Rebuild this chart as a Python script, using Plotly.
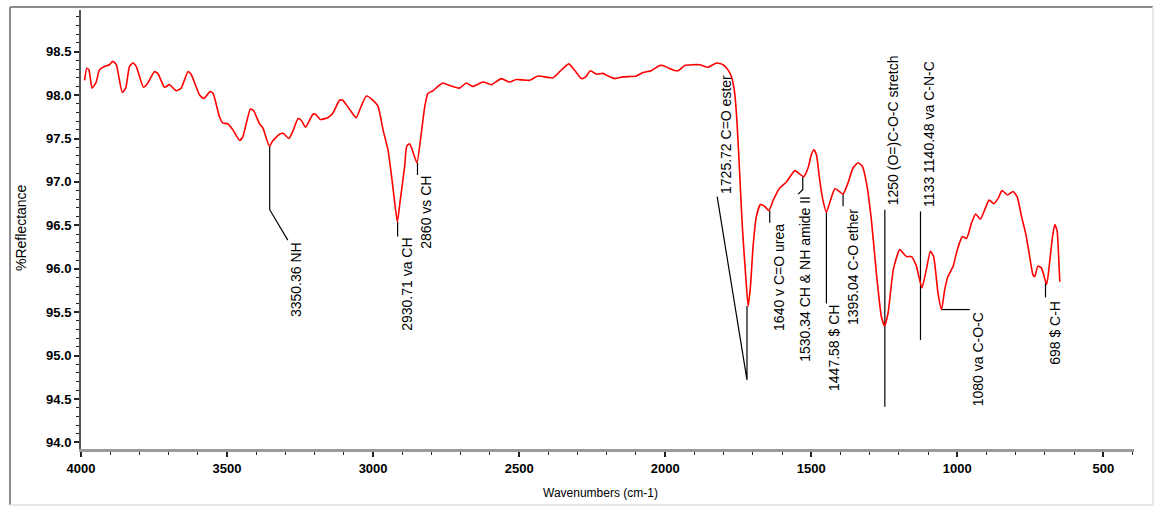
import plotly.graph_objects as go

# ---------------- data ----------------
wavenumbers = [
    3988, 3980, 3973, 3962, 3948, 3937, 3920, 3903, 3891, 3879, 3859, 3847, 3834, 3822, 3811,
    3786, 3771, 3749, 3737, 3714, 3697, 3674, 3657, 3634, 3623, 3594, 3580, 3558, 3548, 3526,
    3515, 3498, 3480, 3457, 3446, 3420, 3409, 3389, 3377, 3355, 3344, 3320, 3308, 3288, 3274,
    3257, 3246, 3231, 3206, 3197, 3181, 3155, 3138, 3115, 3104, 3092, 3075, 3058, 3041, 3023,
    3000, 2983, 2966, 2949, 2938, 2927, 2917, 2907, 2892, 2885, 2875, 2866, 2850, 2838, 2823,
    2812, 2795, 2778, 2761, 2738, 2704, 2681, 2659, 2624, 2595, 2561, 2533, 2510, 2464, 2436,
    2384, 2361, 2330, 2311, 2287, 2272, 2256, 2235, 2213, 2196, 2173, 2145, 2099, 2076, 2048,
    2019, 2008, 1973, 1956, 1933, 1882, 1854, 1824, 1802, 1785, 1773, 1762, 1754, 1745, 1736,
    1725, 1716, 1708, 1699, 1688, 1674, 1660, 1645, 1630, 1608, 1585, 1556, 1539, 1526, 1511,
    1500, 1491, 1482, 1471, 1460, 1448, 1434, 1419, 1404, 1391, 1374, 1357, 1340, 1325, 1311,
    1294, 1277, 1260, 1249, 1237, 1219, 1197, 1174, 1157, 1140, 1121, 1106, 1092, 1081, 1066,
    1054, 1043, 1032, 1014, 1003, 991, 982, 968, 951, 937, 921, 906, 891, 875, 860,
    847, 828, 809, 795, 780, 766, 754, 741, 735, 724, 712, 694, 683, 674, 666,
    658, 653, 649,
]
reflectance = [
    98.17, 98.31, 98.29, 98.08, 98.15, 98.29, 98.33, 98.35, 98.39, 98.35, 98.03, 98.08, 98.33, 98.37, 98.33,
    98.09, 98.14, 98.27, 98.25, 98.09, 98.12, 98.05, 98.08, 98.27, 98.24, 98.00, 97.96, 98.04, 98.02, 97.75,
    97.68, 97.67, 97.60, 97.48, 97.52, 97.84, 97.82, 97.67, 97.62, 97.41, 97.47, 97.55, 97.56, 97.50, 97.59,
    97.73, 97.71, 97.63, 97.78, 97.78, 97.72, 97.74, 97.79, 97.94, 97.94, 97.89, 97.81, 97.74, 97.87, 97.99,
    97.94, 97.87, 97.60, 97.37, 97.10, 96.79, 96.54, 96.79, 97.18, 97.41, 97.44, 97.37, 97.22, 97.48, 97.87,
    98.02, 98.05, 98.10, 98.14, 98.11, 98.08, 98.14, 98.10, 98.15, 98.12, 98.19, 98.15, 98.18, 98.17, 98.22,
    98.20, 98.27, 98.36, 98.29, 98.19, 98.21, 98.28, 98.24, 98.25, 98.22, 98.19, 98.21, 98.22, 98.26, 98.28,
    98.34, 98.34, 98.29, 98.28, 98.34, 98.35, 98.32, 98.37, 98.35, 98.29, 98.21, 98.02, 97.68, 97.10, 96.49,
    95.95, 95.57, 95.80, 96.26, 96.60, 96.74, 96.72, 96.67, 96.79, 96.93, 97.00, 97.13, 97.09, 97.06, 97.16,
    97.31, 97.37, 97.31, 97.02, 96.79, 96.65, 96.79, 96.92, 96.89, 96.86, 96.99, 97.16, 97.22, 97.18, 96.99,
    96.56, 95.95, 95.45, 95.34, 95.49, 95.99, 96.22, 96.14, 96.14, 96.03, 95.78, 95.99, 96.20, 96.14, 95.72,
    95.53, 95.76, 95.91, 96.03, 96.18, 96.31, 96.37, 96.35, 96.53, 96.63, 96.57, 96.68, 96.79, 96.75, 96.81,
    96.90, 96.85, 96.89, 96.83, 96.60, 96.41, 96.18, 95.93, 95.91, 96.03, 96.01, 95.82, 96.10, 96.37, 96.51,
    96.43, 96.14, 95.85,
]

x_tick_values = [4000, 3500, 3000, 2500, 2000, 1500, 1000, 500]
y_tick_values = [94.0, 94.5, 95.0, 95.5, 96.0, 96.5, 97.0, 97.5, 98.0, 98.5]
y_tick_labels = ["94.0", "94.5", "95.0", "95.5", "96.0", "96.5", "97.0", "97.5", "98.0", "98.5"]

x_title = "Wavenumbers (cm-1)"
y_title = "%Reflectance"

peak_labels = [
    "3350.36 NH", "2930.71 va CH", "2860 vs CH", "1725.72 C=O ester", "1640 v C=O urea",
    "1530.34 CH & NH amide II", "1447.58 $ CH", "1395.04 C-O ether",
    "1250 (O=)C-O-C stretch", "1133 1140.48 va C-N-C", "1080 va C-O-C", "698 $ C-H",
]
label_x = [3262, 2885, 2818, 1790, 1608, 1522, 1420, 1357, 1220, 1097, 929, 666]
label_y = [96.32, 96.37, 97.08, 96.85, 96.53, 96.85, 95.59, 96.70, 96.72, 96.70, 95.51, 95.64]
label_anchor = ["top", "top", "top", "bottom", "top", "top", "top", "top", "bottom", "bottom", "top", "top"]
leader_x = [
    [3354, 3354, 3292], [2916, 2916], [2848, 2848], [1822, 1720, 1720], [1642, 1642],
    [1529, 1529, 1545], [1448, 1448], [1391, 1391], [1248, 1248], [1126, 1126],
    [1054, 957], [698, 698],
]
leader_y = [
    [97.41, 96.68, 96.33], [96.54, 96.37], [97.22, 97.08], [96.83, 94.72, 95.57], [96.67, 96.53],
    [97.06, 96.91, 96.86], [96.65, 95.60], [96.86, 96.72], [96.68, 94.41], [96.66, 95.18],
    [95.53, 95.53], [95.84, 95.67],
]

# ---------------- figure ----------------
W, H = 1155, 508
ML, MR, MT, MB = 81, 21, 10, 59
PW, PH = W - ML - MR, H - MT - MB

TEXT_FONT = "Liberation Sans, Arial, sans-serif"

fig = go.Figure()

lx, ly = [], []
for xs, ys in zip(leader_x, leader_y):
    lx += xs + [None]
    ly += ys + [None]
fig.add_trace(go.Scatter(x=lx, y=ly, mode="lines", line=dict(color="#000000", width=1.2),
                         hoverinfo="skip", showlegend=False))

fig.add_trace(go.Scatter(x=wavenumbers, y=reflectance, mode="lines",
                         line=dict(color="#ff0000", width=1.6, shape="spline", smoothing=0.5),
                         showlegend=False))

for t, x, y, a in zip(peak_labels, label_x, label_y, label_anchor):
    fig.add_annotation(x=x, y=y, text=t, textangle=-90, showarrow=False,
                       xanchor="center", yanchor=a, borderpad=0,
                       font=dict(family=TEXT_FONT, size=14, color="#000000"))

def px_x(px):
    return (px - ML) / PW

def px_y(py):
    return (MT + PH - py) / PH

# axis titles
fig.add_annotation(xref="paper", yref="paper", x=px_x(600), y=px_y(493), text=x_title,
                   showarrow=False, xanchor="center", yanchor="middle",
                   font=dict(family=TEXT_FONT, size=12, color="#000000"))
fig.add_annotation(xref="paper", yref="paper", x=px_x(21), y=px_y(228), text=y_title,
                   textangle=-90, showarrow=False, xanchor="center", yanchor="middle",
                   font=dict(family=TEXT_FONT, size=14, color="#000000"))

frame_dark = "#8c8c8c"
frame_light = "#e6e6e6"
fig.add_shape(type="line", xref="paper", yref="paper", x0=px_x(10), x1=px_x(1153), y0=px_y(7), y1=px_y(7),
              line=dict(color=frame_dark, width=2))
fig.add_shape(type="line", xref="paper", yref="paper", x0=px_x(10), x1=px_x(10), y0=px_y(7), y1=px_y(505),
              line=dict(color=frame_dark, width=2))
fig.add_shape(type="line", xref="paper", yref="paper", x0=px_x(10), x1=px_x(1153), y0=px_y(505), y1=px_y(505),
              line=dict(color=frame_light, width=2))
fig.add_shape(type="line", xref="paper", yref="paper", x0=px_x(1153), x1=px_x(1153), y0=px_y(7), y1=px_y(505),
              line=dict(color=frame_light, width=2))

tickfont = dict(family=TEXT_FONT, size=13, color="#000000", weight="bold")

fig.update_layout(
    width=W, height=H,
    margin=dict(l=ML, r=MR, t=MT, b=MB, pad=0),
    paper_bgcolor="#ffffff", plot_bgcolor="#ffffff",
    showlegend=False,
    xaxis=dict(
        range=[4000, 395], tickvals=x_tick_values, ticktext=[str(v) for v in x_tick_values],
        ticks="outside", ticklen=5, tickwidth=1.5, tickcolor="#222222",
        minor=dict(dtick=100, tick0=0, ticks="outside", ticklen=3, tickwidth=1.2, tickcolor="#222222", showgrid=False),
        showline=True, linecolor="#9a9a9a", linewidth=3,
        showgrid=False, zeroline=False, automargin=False,
        tickfont=tickfont,
    ),
    yaxis=dict(
        range=[93.924, 98.98], tickvals=y_tick_values, ticktext=y_tick_labels,
        ticks="outside", ticklen=5, tickwidth=1.5, tickcolor="#222222",
        minor=dict(dtick=0.1, tick0=94.0, ticks="outside", ticklen=3, tickwidth=1.2, tickcolor="#222222", showgrid=False),
        showline=True, linecolor="#555555", linewidth=2,
        showgrid=False, zeroline=False, automargin=False,
        tickfont=tickfont,
    ),
)

fig.write_html(
    "out.html",
    config={"displayModeBar": False},
    post_script="document.body.style.margin='0';document.body.style.overflow='hidden';",
)
